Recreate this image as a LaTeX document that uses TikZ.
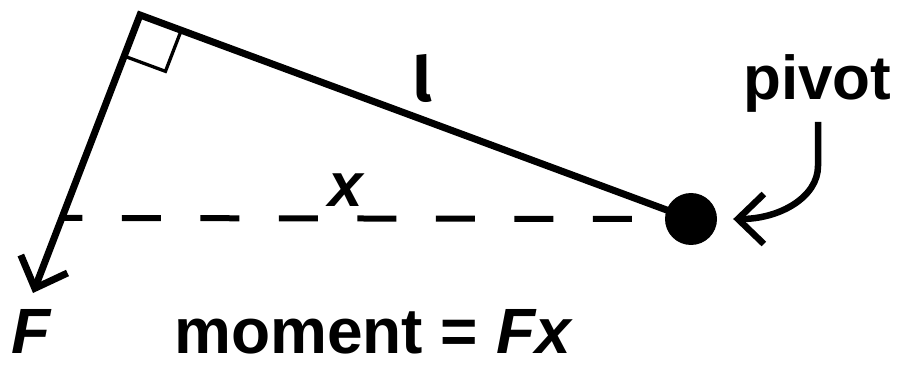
\documentclass[tikz,border=0pt]{standalone}
\usepackage{fontspec}
\setmainfont{Liberation Sans}
\newfontfamily\ellfont{Fira Sans}
\usetikzlibrary{arrows.meta,calc}
\begin{document}
\begin{tikzpicture}[x=1pt,y=-1pt,
  heavy/.style={line width=7pt},
  barb/.style={-{Straight Barb[length=26pt,width=50pt]}},
  lbl/.style={inner sep=0pt, font=\fontsize{62}{62}\selectfont\bfseries},
  biglbl/.style={inner sep=0pt, font=\fontsize{64}{64}\selectfont\bfseries}]
\useasboundingbox (0,0) rectangle (905,366);
% pivot
\node[circle, fill=black, minimum size=52pt, inner sep=0pt] (pivot) at (691,219) {};
\coordinate (corner) at (140,15);
\coordinate (Ftip) at (33,293);
% lever and force
\draw[heavy, line join=miter, barb] (pivot.center) -- (corner) -- (Ftip);
% right-angle mark
\coordinate (ra) at ($(corner)!44pt!(Ftip)$);
\coordinate (rb) at ($(corner)!44pt!(pivot)$);
\coordinate (rc) at ($(ra)+(rb)-(corner)$);
\draw[line width=3.3pt, line join=miter] (ra) -- (rc) -- (rb);
% dashed perpendicular distance
\coordinate (dstart) at ($(corner)!0.730!(Ftip)$);
\coordinate (dend) at (632,219);
\draw[line width=6pt, dash pattern=on 39pt off 39.5pt, dash phase=18.5pt] (dstart) -- (dend);
% pivot pointer
\coordinate (pstart) at (818,122);
\draw[line width=6.5pt, barb] (pstart) -- (818,166) .. controls (818,197) and (780,219) .. ([xshift=16pt]pivot.east);
% labels
\node[lbl, anchor=base west] (pivotlbl) at (743,100) {pivot};
\node[biglbl, anchor=base west] (Flbl) at (11,353) {\itshape F};
\node[biglbl, anchor=base west] (eq) at (174,353) {moment = \textit{Fx}};
\node[lbl, anchor=base west] (xlbl) at (328,207) {\itshape x};
\node[lbl, anchor=base west] (llbl) at (413,102) {\ellfont l};
\end{tikzpicture}
\end{document}
